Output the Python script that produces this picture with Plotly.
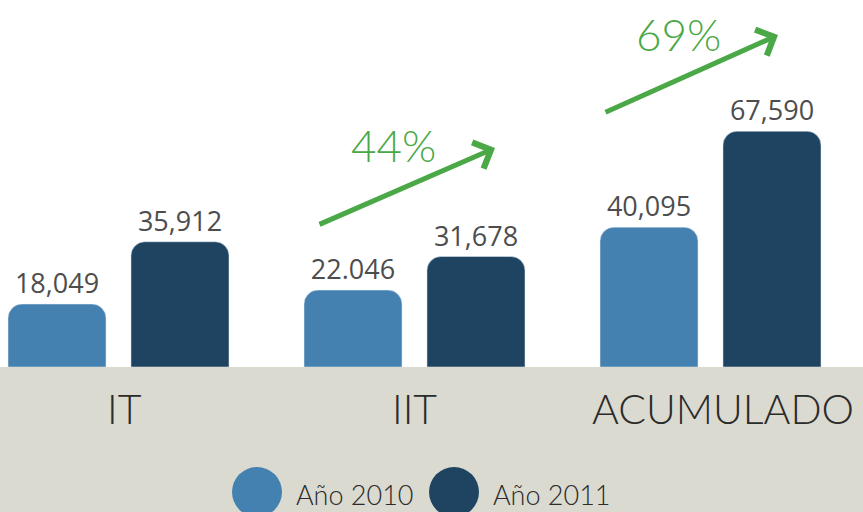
import plotly.graph_objects as go

categories = ["IT", "IIT", "ACUMULADO"]
series_names = ["Año 2010", "Año 2011"]
values_2010 = [18049, 22046, 40095]
values_2011 = [35912, 31678, 67590]
labels_2010 = ["18,049", "22.046", "40,095"]
labels_2011 = ["35,912", "31,678", "67,590"]
growth_labels = ["44%", "69%"]

C2010 = "#4581b0"
C2011 = "#1f4462"
GREEN = "#4aa846"
BAND = "#dadad0"
THIN = "Lato"

W, H = 863, 512
PLOT_H = 367  # plot area height in px (from top)
px_per_cat = 296.0
x0 = -118.5 / px_per_cat
units_per_px = 286.7

fig = go.Figure()
for vals, labs, name, col in [(values_2010, labels_2010, series_names[0], C2010),
                              (values_2011, labels_2011, series_names[1], C2011)]:
    fig.add_bar(x=categories, y=vals, name=name, marker_color=col,
                marker_cornerradius=14, text=labs, texttemplate="%{text}",
                textposition="outside", cliponaxis=False, constraintext="none",
                textfont=dict(family="Open Sans", size=27, color="#4d4d4d"),
                showlegend=False, hoverinfo="skip")

def py2paper(py):
    return (PLOT_H - py) / PLOT_H

def px2x(px):
    return x0 + px / px_per_cat

def py2y(py):
    return (PLOT_H - py) * units_per_px

shapes = [
    dict(type="rect", xref="paper", yref="paper", x0=0, x1=1, y0=py2paper(H + 5), y1=0,
         fillcolor=BAND, line_width=0, layer="below"),
]
# legend circles
for cx, col in [(257, C2010), (454, C2011)]:
    shapes.append(dict(type="circle", xref="paper", yref="paper",
                       x0=(cx - 25) / W, x1=(cx + 25) / W,
                       y0=py2paper(517), y1=py2paper(467),
                       fillcolor=col, line_width=0))

annotations = []
# category labels
cat_shift = [6, 0, 12]
for c, s in zip(categories, cat_shift):
    annotations.append(dict(x=c, y=py2paper(409), xref="x", yref="paper", text=c,
                            showarrow=False, xshift=s, xanchor="center", yanchor="middle",
                            font=dict(family=THIN, size=41, color="#2b2b2b", weight=300)))
# legend text
for lx, name in [(294, series_names[0]), (491, series_names[1])]:
    annotations.append(dict(x=lx / W, y=py2paper(494), xref="paper", yref="paper",
                            text=name, showarrow=False, xanchor="left", yanchor="middle",
                            font=dict(family=THIN, size=27, color="#2b2b2b", weight=300)))
# growth arrows
arrows = [((318, 225), (495, 148), (393, 145)), ((604, 113), (778, 35), (678, 34))]
for (t, h, lab), g in zip(arrows, growth_labels):
    annotations.append(dict(x=px2x(h[0]), y=py2y(h[1]), ax=px2x(t[0]), ay=py2y(t[1]),
                            xref="x", yref="y", axref="x", ayref="y", text="",
                            showarrow=True, arrowhead=4, arrowsize=1.1, arrowwidth=5,
                            arrowcolor=GREEN))
    annotations.append(dict(x=px2x(lab[0]), y=py2y(lab[1]), xref="x", yref="y", text=g,
                            showarrow=False, xanchor="center", yanchor="middle",
                            font=dict(family=THIN, size=44, color=GREEN, weight=300)))

fig.update_layout(
    width=W, height=H,
    margin=dict(l=0, r=0, t=0, b=H - PLOT_H, pad=0),
    paper_bgcolor="white", plot_bgcolor="white",
    barmode="group", bargap=0.169, bargroupgap=0.203,
    xaxis=dict(range=[x0, x0 + W / px_per_cat], showticklabels=False, showgrid=False,
               zeroline=False, showline=False, ticks=""),
    yaxis=dict(range=[0, PLOT_H * units_per_px], showticklabels=False, showgrid=False,
               zeroline=False, showline=False, ticks=""),
    shapes=shapes, annotations=annotations, showlegend=False,
)

fig.write_html("out.html", config={"displayModeBar": False},
               post_script="document.body.style.margin='0';document.body.style.overflow='hidden';")
